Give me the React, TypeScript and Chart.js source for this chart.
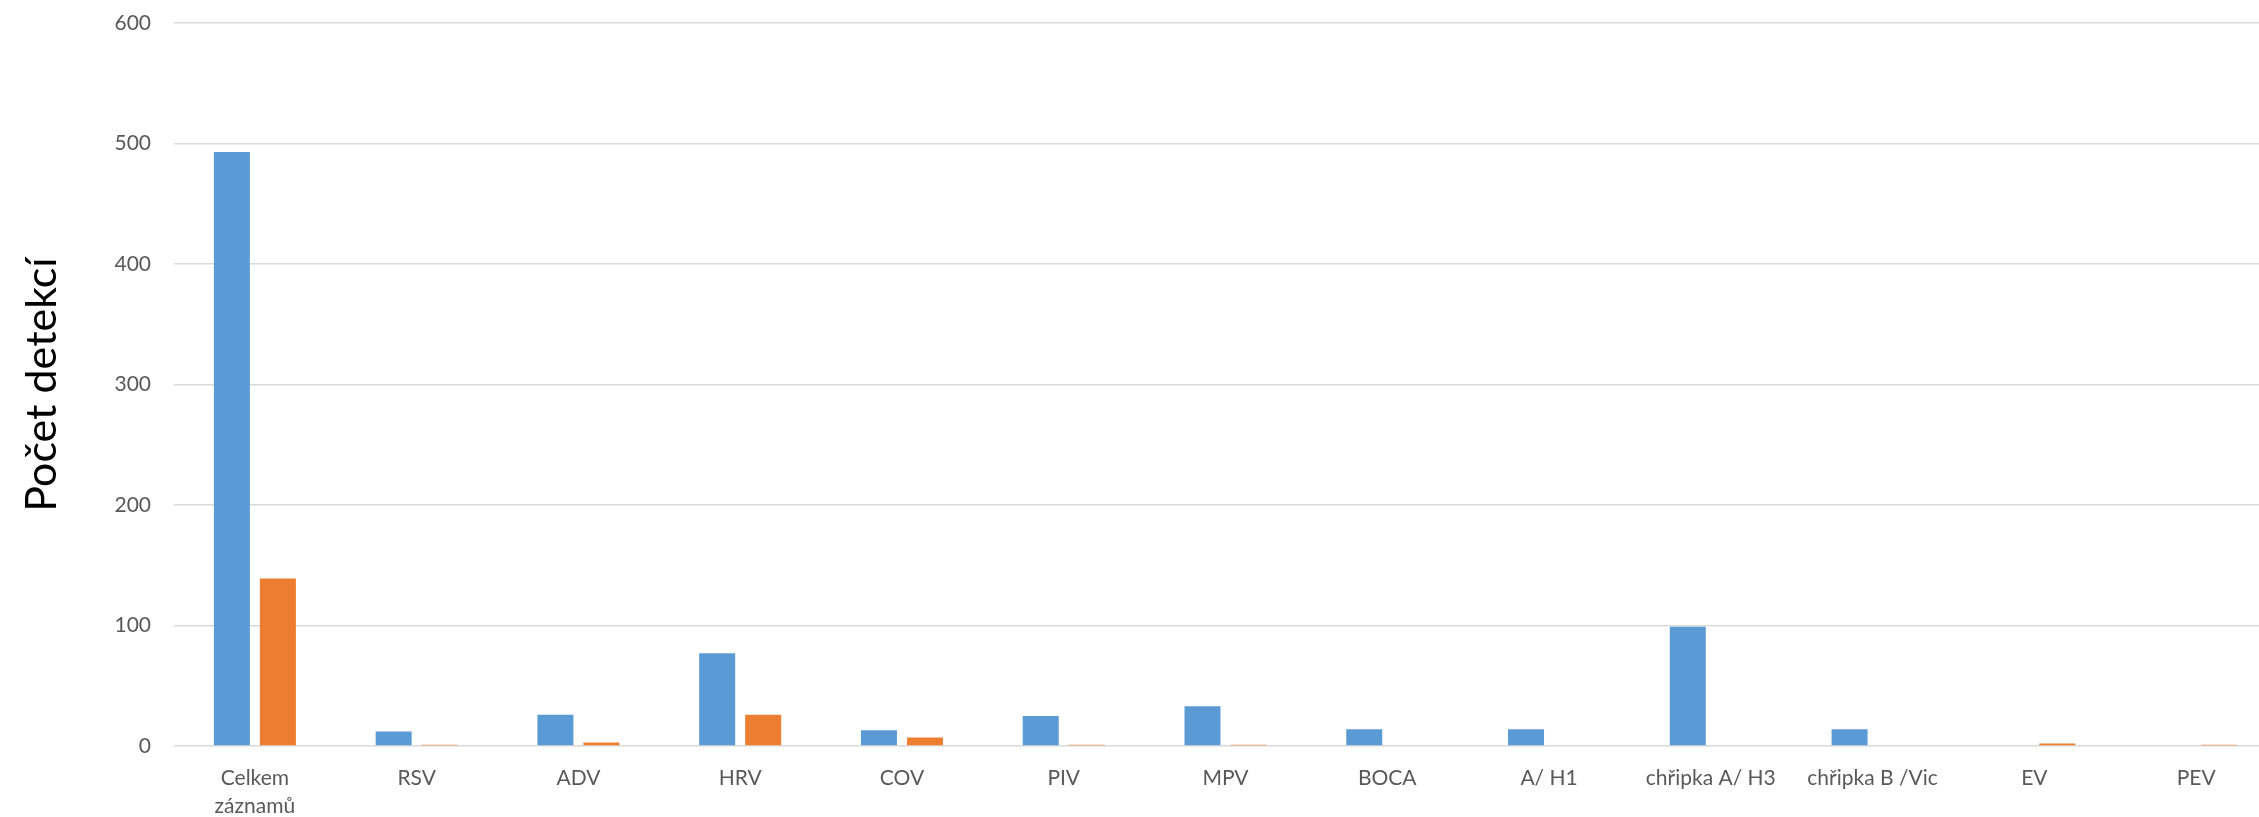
import React, { useEffect, useRef } from "react";
import { Chart, registerables } from "chart.js";

Chart.register(...registerables);

const categories: (string | string[])[] = [
  ["Celkem", "záznamů"],
  "RSV",
  "ADV",
  "HRV",
  "COV",
  "PIV",
  "MPV",
  "BOCA",
  "A/ H1",
  "chřipka A/ H3",
  "chřipka B /Vic",
  "EV",
  "PEV",
];

const seriesBlue: number[] = [493, 12, 26, 77, 13, 25, 33, 14, 14, 99, 14, 0, 0];
const seriesOrange: number[] = [139, 1, 3, 26, 7, 1, 1, 0, 0, 0, 0, 2, 1];

const yTicks: number[] = [0, 100, 200, 300, 400, 500, 600];
const yTitle = "Počet detekcí";

const FONT = "Lato, 'Open Sans', sans-serif";

export default function App() {
  const ref = useRef<HTMLCanvasElement | null>(null);

  useEffect(() => {
    if (!ref.current) return;
    const chart = new Chart(ref.current, {
      type: "bar",
      data: {
        labels: categories,
        datasets: [
          {
            label: "A",
            data: seriesBlue,
            backgroundColor: "#5B9BD5",
            categoryPercentage: 0.5688,
            barPercentage: 0.7826,
          },
          {
            label: "B",
            data: seriesOrange,
            backgroundColor: "#ED7D31",
            categoryPercentage: 0.5688,
            barPercentage: 0.7826,
          },
        ],
      },
      options: {
        responsive: false,
        animation: false,
        devicePixelRatio: 1,
        layout: { padding: { top: 23, right: 5, bottom: 0, left: 0 } },
        plugins: {
          legend: { display: false },
          tooltip: { enabled: false },
        },
        scales: {
          x: {
            grid: { display: false, drawTicks: false },
            border: { display: false },
            ticks: {
              color: "#595959",
              font: { family: FONT, size: 21, lineHeight: 1.35 },
              padding: 18,
              maxRotation: 0,
              autoSkip: false,
            },
            afterFit: (scale: any) => {
              scale.height = 71;
            },
          },
          y: {
            min: yTicks[0],
            max: yTicks[yTicks.length - 1],
            afterBuildTicks: (scale: any) => {
              scale.ticks = yTicks.map((v) => ({ value: v }));
            },
            grid: {
              color: "#d9d9d9",
              lineWidth: 1.5,
              drawTicks: true,
              tickLength: 20,
              tickColor: "rgba(0,0,0,0)",
            },
            border: { display: false },
            ticks: {
              color: "#595959",
              font: { family: FONT, size: 21 },
              padding: 3,
            },
            title: {
              display: true,
              text: yTitle,
              color: "#000000",
              font: { family: FONT, size: 43, lineHeight: 1.2 },
              padding: { top: 16, bottom: 0 },
            },
            afterFit: (scale: any) => {
              scale.width = 174;
            },
          },
        },
      },
    });
    return () => chart.destroy();
  }, []);

  return (
    <div
      style={{
        position: "fixed",
        left: 0,
        top: 0,
        width: 2259,
        height: 817,
        overflow: "hidden",
        background: "#ffffff",
      }}
    >
      <canvas ref={ref} width={2282} height={817} style={{ display: "block" }} />
    </div>
  );
}
